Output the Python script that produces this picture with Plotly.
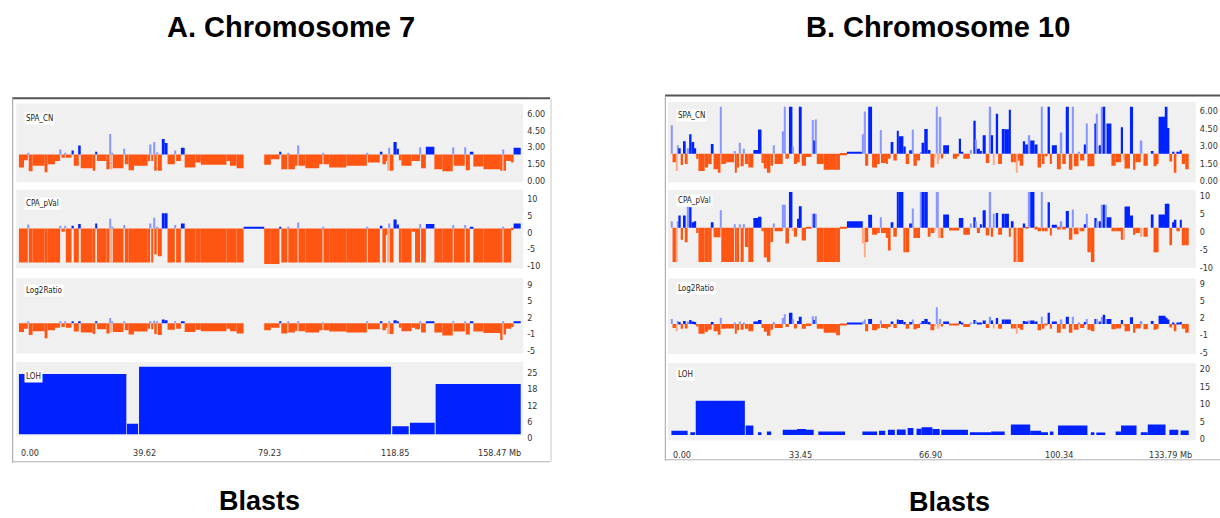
import plotly.graph_objects as go

W, H = 1220, 518

# ---------------- DATA (Mb positions, track values) ----------------
# Chromosome 7: contiguous segments; edges (Mb)
left_edges = [0.1, 1.7, 2.9, 3.2, 4.4, 8.2, 9.1, 11.5, 13.1, 13.5,
              14.6, 14.9, 16.7, 17.4, 19.0, 19.6, 23.4, 24.2, 24.7, 27.7,
              28.7, 29.0, 29.4, 29.7, 33.1, 33.5, 34.7, 36.4, 40.7, 41.5,
              41.9, 42.5, 42.8, 43.6, 43.9, 45.2, 46.1, 47.0, 49.3, 49.7,
              51.2, 52.4, 55.8, 57.5, 65.6, 66.7, 68.8, 71.0, 77.5, 79.6,
              82.3, 82.9, 84.8, 85.1, 87.2, 88.0, 88.3, 90.5, 94.8, 95.9,
              96.2, 98.0, 103.4, 109.9, 110.2, 114.0, 114.8, 115.9, 116.4, 116.7,
              117.1, 118.3, 119.3, 120.0, 120.8, 124.0, 125.1, 126.7, 127.0, 128.5,
              131.2, 133.7, 137.0, 137.3, 140.8, 141.1, 142.4, 143.5, 146.7, 152.1,
              152.7, 153.0, 153.8, 155.4, 156.2, 158.45]
left_cn = [0.82, 1.47, 2.15, 0.47, 0.97, 0.38, 1.12, 1.41, 2.44, 1.70,
           2.15, 1.70, 2.35, 0.97, 2.80, 0.76, 0.52, 2.24, 1.41, 0.67,
           3.83, 0.67, 2.15, 0.76, 2.50, 1.12, 0.58, 0.97, 1.41, 2.89,
           1.41, 3.12, 0.52, 2.20, 0.52, 3.39, 3.03, 1.12, 2.35, 1.41,
           2.59, 0.82, 1.26, 1.06, 1.41, 0.97, 0.76, None, 1.06, 1.56,
           2.24, 0.67, 2.15, 0.67, 0.97, 2.80, 0.97, 0.76, 1.12, 2.12,
           1.12, 0.82, 0.97, 2.15, 1.26, 2.24, 1.12, 1.41, 0.52, 2.59,
           0.52, 3.12, 2.50, 1.47, 0.97, 1.41, 1.41, 2.65, 0.76, 2.68,
           0.67, 0.47, 2.65, 0.97, 2.65, 0.58, 2.24, 0.91, 0.67, 0.52,
           2.44, 0.52, 1.41, 1.26, 2.59]
left_pval = [-10.2, -10.2, 1.2, -10.2, -10.2, -10.2, -10.2, -10.2, 0.8, -1.0,
             0.8, -10.2, 0.8, -10.2, 1.3, -10.2, -10.2, 1.5, -10.2, -10.2,
             2.9, -10.2, 0.5, -10.2, 1.0, -10.2, -10.2, -10.2, -10.2, 1.5,
             -10.2, 3.2, -7.8, 0.5, -8.3, 4.5, 4.5, -10.2, 1.0, -10.2,
             1.5, -10.2, -10.2, -10.2, -10.2, -10.2, -10.2, 0.5, -10.6, -10.6,
             0.5, -10.2, 0.5, -10.2, -10.2, 1.8, -10.2, -10.2, -10.2, 0.4,
             -10.2, -10.2, -10.2, 0.5, -10.2, 0.8, -10.2, -2.0, -10.2, 1.5,
             -10.2, 2.7, 1.2, -10.2, -10.2, -1.0, -10.2, 1.3, -10.2, 1.3,
             -10.2, -10.2, 1.0, -10.2, 1.0, -10.2, 0.5, -10.2, -10.2, -10.2,
             0.5, -10.2, -10.2, -0.5, 1.5]
left_log2 = [-1.9, -1.2, 0.2, -2.5, -1.7, -3.2, -1.5, -1.0, 0.2, -0.8,
             0.2, -1.0, 0.3, -1.8, 0.3, -2.0, -2.3, 0.2, -1.3, -2.2,
             1.1, -2.0, 0.2, -1.9, 0.2, -1.5, -2.4, -1.8, -1.2, 0.4,
             -1.3, 0.5, -2.3, 0.2, -2.5, 0.8, 0.6, -1.4, 0.2, -1.2,
             0.2, -1.9, -1.4, -1.7, -1.2, -1.7, -2.2, None, -1.5, -1.0,
             0.3, -2.2, 0.2, -2.0, -1.6, 0.3, -1.7, -2.0, -1.5, 0.1,
             -1.5, -1.8, -2.0, 0.2, -1.3, 0.2, -1.5, -1.0, -2.3, 0.3,
             -2.3, 0.6, 0.3, -1.0, -1.7, -1.0, -1.3, 0.2, -2.0, 0.4,
             -2.0, -2.6, 0.2, -1.8, 0.2, -2.4, 0.3, -1.8, -2.1, -3.6,
             0.2, -2.4, -1.2, -0.8, 0.4]
left_loh_start = [0.1, 34.2, 38.0, 117.9, 123.5, 131.6]
left_loh_end = [34.0, 37.7, 117.5, 123.1, 131.3, 158.45]
left_loh = [23.0, 4.0, 25.7, 3.0, 4.4, 19.1]

# Chromosome 10 segments
right_start = [0.0, 0.3, 1.2, 1.5, 1.8, 2.4, 3.0, 3.7, 4.2, 4.6,
               5.2, 5.9, 6.4, 7.0, 8.6, 9.5, 10.4, 10.9, 12.2, 12.7,
               12.9, 14.1, 16.2, 16.4, 16.9, 17.5, 17.9, 18.7, 19.0, 19.9,
               21.2, 22.4, 23.3, 23.9, 24.7, 25.6, 26.3, 26.7, 28.8, 29.2,
               29.5, 30.4, 31.3, 31.7, 32.5, 33.2, 33.7, 34.8, 36.4, 36.7,
               37.3, 37.6, 39.4, 42.6, 43.6, 45.4, 49.5, 49.8, 50.1, 50.9,
               51.9, 53.2, 53.9, 54.2, 55.5, 56.0, 56.7, 57.4, 58.3, 58.8,
               60.0, 60.6, 61.5, 62.3, 62.6, 63.5, 64.3, 64.7, 65.4, 66.3,
               67.0, 68.0, 68.4, 68.7, 69.1, 69.4, 69.8, 70.3, 71.8, 72.8,
               73.9, 74.4, 74.9, 75.5, 77.4, 78.1, 78.7, 79.0, 79.8, 80.5,
               81.3, 82.3, 82.7, 83.2, 83.9, 84.5, 85.7, 86.2, 87.3, 87.8,
               88.5, 89.2, 89.6, 90.1, 91.0, 91.5, 92.4, 92.8, 93.9, 94.7,
               95.6, 96.0, 96.5, 97.3, 97.9, 98.4, 99.7, 100.7, 101.1, 102.0,
               102.8, 103.7, 104.1, 105.3, 105.7, 106.8, 107.3, 107.6, 108.5, 109.4,
               110.0, 110.5, 111.3, 111.7, 112.2, 112.6, 113.8, 114.9, 116.3, 116.8,
               117.2, 118.6, 119.4, 120.0, 121.4, 122.1, 124.2, 124.7, 125.5, 126.0,
               127.8, 128.3, 128.8, 129.5, 130.1, 130.6, 131.5, 132.0, 132.9]
right_end = [0.3, 1.2, 1.5, 1.8, 2.4, 3.0, 3.7, 4.2, 4.6, 5.2,
             5.9, 6.4, 7.0, 8.6, 9.5, 10.4, 10.9, 12.2, 12.7, 12.9,
             14.1, 16.2, 16.4, 16.9, 17.5, 17.9, 18.7, 19.0, 19.9, 21.2,
             22.4, 23.3, 23.9, 24.7, 25.6, 26.3, 26.7, 28.8, 29.2, 29.5,
             30.4, 31.3, 31.7, 32.5, 33.2, 33.7, 34.8, 36.2, 36.7, 37.3,
             37.6, 39.4, 42.6, 43.6, 45.4, 49.5, 49.8, 50.1, 50.9, 51.9,
             53.2, 53.9, 54.2, 55.5, 56.0, 56.7, 57.4, 58.3, 58.8, 60.0,
             60.6, 61.5, 62.3, 62.6, 63.5, 64.3, 64.7, 65.4, 66.3, 67.0,
             68.0, 68.4, 68.7, 69.1, 69.4, 69.8, 70.3, 71.8, 72.8, 73.9,
             74.4, 74.9, 75.5, 77.2, 77.7, 78.7, 79.0, 79.8, 80.3, 81.3,
             82.2, 82.7, 83.2, 83.6, 84.5, 85.5, 86.2, 87.3, 87.8, 88.5,
             89.2, 89.6, 90.1, 91.0, 91.5, 92.4, 92.8, 93.9, 94.7, 95.6,
             96.0, 96.5, 97.3, 97.9, 98.4, 99.7, 100.7, 101.1, 102.0, 102.8,
             103.7, 104.1, 105.3, 105.7, 106.8, 107.3, 107.6, 108.5, 109.4, 110.0,
             110.3, 111.1, 111.7, 112.2, 112.6, 113.8, 114.9, 116.3, 116.8, 117.2,
             118.6, 119.4, 120.0, 121.4, 121.8, 123.2, 124.7, 125.5, 126.0, 127.8,
             128.3, 128.8, 129.5, 130.1, 130.6, 131.5, 132.0, 132.9, 133.8]
right_cn = [4.42, 1.28, 0.54, 2.72, 2.48, 1.04, 3.07, 1.13, 2.48, 3.67,
            3.01, 2.48, 1.58, 0.54, 0.84, 1.13, 2.84, 0.69, 0.39, 6.0,
            1.13, 1.28, 2.24, 0.39, 0.84, 2.93, 0.93, 2.42, 1.13, 0.84,
            2.33, 4.06, 1.22, 0.75, 0.39, 0.99, 2.72, 1.13, 3.91, 6.0,
            1.58, 6.0, 2.63, 1.13, 1.28, 6.0, 0.99, 1.73, 4.87, 3.13,
            4.93, 1.13, 0.63, 0.63, 1.88, 2.18, 3.67, 5.61, 0.99, 6.0,
            0.84, 1.13, 4.03, 1.22, 1.13, 1.58, 3.01, 1.43, 3.97, 3.49,
            2.63, 1.13, 2.30, 4.06, 0.99, 1.43, 2.10, 2.93, 4.12, 2.33,
            0.84, 1.60, 6.0, 1.13, 1.50, 5.16, 1.60, 2.72, 2.0, 1.58,
            1.80, 3.28, 2.18, 1.58, 2.33, 4.81, 3.22, 2.42, 2.24, 3.58,
            1.22, 6.0, 3.58, 1.04, 5.40, 1.13, 4.12, 4.09, 5.76, 1.28,
            1.28, 0.39, 1.40, 0.99, 3.07, 2.78, 3.58, 3.13, 2.78, 0.84,
            6.0, 1.13, 1.80, 6.0, 1.13, 2.72, 0.69, 3.82, 1.13, 6.0,
            0.63, 6.0, 0.93, 2.18, 1.43, 2.78, 4.57, 0.93, 0.93, 4.57,
            5.40, 2.72, 6.0, 6.0, 4.57, 4.57, 0.99, 1.28, 4.27, 1.50,
            0.75, 6.0, 0.63, 1.28, 3.13, 0.99, 2.24, 0.93, 1.13, 5.16,
            6.0, 4.20, 1.34, 2.18, 0.39, 2.18, 2.30, 1.13, 0.69]
right_pval = [1.8, -9.6, -9.6, 1.8, 3.4, -3.4, 3.4, -4.1, 5.9, 5.7,
              1.5, 1.8, -1.5, -9.6, -9.6, -9.6, 1.5, -2.7, -2.7, 4.9,
              -9.6, -9.6, 1.0, -9.6, -9.6, 1.0, -9.6, 1.0, -5.4, -9.6,
              2.7, 3.1, -1.0, -8.3, -9.6, -4.0, 1.2, -1.0, 6.4, 6.4,
              -4.4, 10.0, -1.0, -2.5, 2.5, 6.0, -3.6, -0.3, 3.9, 3.9,
              3.9, -9.6, -9.6, -9.6, -0.3, 1.8, -4.4, -8.3, -4.0, 3.6,
              -2.0, -1.5, 2.9, -1.5, -2.9, -6.4, 1.5, -2.5, 10.0, 10.0,
              -6.9, -6.9, 1.2, 5.4, -2.9, -2.9, 10.0, 10.0, 10.0, -2.5,
              -1.5, -1.0, 10.0, 10.0, -2.9, -2.9, -2.9, 3.7, -0.8, -0.8,
              -0.8, 2.7, 2.7, -2.0, 1.2, 2.9, 1.8, -1.5, 1.0, 4.9,
              -2.2, 10.0, -2.5, 3.9, 4.1, -2.0, 3.9, 3.9, -2.5, 1.8,
              -9.6, -9.6, -9.6, -9.6, 1.2, -0.3, 10.0, 10.0, -0.5, -1.0,
              10.0, -1.0, -1.0, 7.1, -2.2, 0.8, -0.5, 1.8, -0.5, 4.7,
              -3.4, 5.1, -1.8, -1.0, -1.0, 1.0, 3.9, -6.9, -9.6, 2.7,
              1.8, 1.8, 6.4, 6.4, 6.4, 2.9, -1.0, -1.0, -3.4, -3.4,
              5.9, 3.4, -2.0, -1.5, -2.5, -2.5, 3.7, -6.9, -6.9, 3.7,
              6.7, 6.7, -4.9, 1.5, 2.2, -1.0, 2.2, -4.9, -4.9]
right_log2 = [1.0, -0.8, -1.5, 0.6, 0.4, -1.0, 0.6, -0.9, 0.5, 0.8,
              0.5, 0.4, -0.5, -2.0, -1.6, -1.2, 0.4, -1.5, -2.2, 1.3,
              -1.0, -0.9, 0.3, -2.0, -1.3, 0.5, -1.2, 0.3, -1.0, -1.5,
              0.5, 0.8, -0.8, -1.6, -2.4, -1.2, 0.4, -0.8, 1.2, 2.0,
              -0.6, 2.3, 1.0, -0.9, 0.6, 1.5, -1.0, -0.4, 1.6, 0.8,
              1.6, -1.0, -1.8, -2.3, -0.1, 0.3, 0.5, 0.9, -1.5, 1.0,
              -1.3, -0.9, 0.7, -0.8, -1.0, -0.6, 0.5, -0.8, 0.9, 0.8,
              0.4, -1.0, 0.4, 0.9, -1.1, -0.8, 0.3, 0.6, 1.0, 0.4,
              -1.3, -0.5, 3.4, -1.0, -0.5, 1.0, -0.5, 0.5, -0.2, -0.3,
              -0.1, 0.6, 0.2, -0.6, 0.3, 0.8, 0.6, 0.3, 0.2, 0.7,
              -0.8, 1.5, 0.7, -0.9, 1.2, -1.0, 0.9, 0.9, 0.9, -0.9,
              -0.9, -2.0, -0.8, -1.2, 0.6, 0.5, 0.7, 0.7, 0.5, -1.3,
              1.5, -1.0, -0.2, 2.3, -1.0, 0.5, -1.8, 0.9, -1.0, 1.5,
              -1.8, 1.5, -1.2, 0.2, -0.8, 0.4, 1.0, -1.2, -1.5, 1.0,
              1.0, 0.5, 1.5, 1.9, 1.0, 1.0, -1.1, -0.9, 0.8, -0.4,
              -1.5, 1.4, -1.8, -0.9, 0.6, -1.1, 0.6, -1.2, -1.0, 1.7,
              1.3, 0.9, -0.7, 0.3, -1.5, 0.3, 0.4, -1.0, -1.8]
right_loh_start = [0.0, 4.9, 6.3, 19.2, 22.4, 24.7, 28.8, 32.5, 34.8, 38.0,
                   49.4, 53.7, 56.0, 58.3, 61.1, 63.4, 64.7, 67.5, 69.8, 77.2,
                   82.7, 87.8, 92.8, 95.6, 97.9, 100.0, 108.5, 109.9, 114.9, 116.3,
                   121.4, 123.2, 128.8, 131.7]
right_loh_end = [4.2, 6.1, 19.0, 21.2, 23.3, 25.8, 32.5, 34.8, 36.8, 44.9,
                 53.2, 55.3, 57.8, 60.6, 62.6, 64.7, 67.5, 69.4, 76.7, 82.7,
                 86.2, 92.8, 95.6, 97.4, 98.8, 107.6, 109.4, 112.2, 116.3, 120.3,
                 123.2, 127.8, 131.1, 133.8]
right_loh = [1.2, 0.8, 9.8, 2.7, 0.8, 1.0, 1.5, 1.7, 1.5, 1.0,
             1.0, 1.2, 1.5, 1.6, 2.0, 1.8, 2.2, 1.7, 1.5, 0.8,
             1.0, 3.0, 1.2, 0.8, 1.0, 2.7, 0.8, 0.7, 1.0, 2.7,
             0.8, 3.0, 1.5, 1.3]

left_ticks_x = [0.00, 39.62, 79.23, 118.85, 158.47]
right_ticks_x = [0.00, 33.45, 66.90, 100.34, 133.79]
track_names = ["SPA_CN", "CPA_pVal", "Log2Ratio", "LOH"]

# ---------------- STYLE / LAYOUT ----------------
BLUE, ORANGE = "#0022ff", "#ff5512"
LBLUE, LORANGE = "#8a96ff", "#ffab88"
NARROW = "Liberation Sans Narrow, Arial Narrow, DejaVu Sans Condensed, sans-serif"
BOLD = "Liberation Sans, Arial, Helvetica, sans-serif"

def px(x):
    return x / W

def py(y):
    return 1 - y / H

panel_xdom = [[px(16.2), px(523.2)], [px(667.8), px(1195.8)]]
panel_xrange = [[-0.76, 159.23], [-0.93, 135.63]]
# (top px, bottom px, y range) per panel per track
boxes = [
    [(105.3, 185.0, [-0.50, 6.57]), (192.6, 272.5, [-11.91, 11.59]),
     (282.6, 359.1, [-6.46, 9.54]), (367.6, 442.4, [-0.53, 27.56])],
    [(103.5, 185.4, [-0.45, 6.42]), (192.8, 272.2, [-11.27, 10.6]),
     (282.8, 359.7, [-6.17, 9.32]), (368.9, 447.2, [-1.49, 20.5])],
]
yticks = [
    ([0, 1.5, 3, 4.5, 6], ["0.00", "1.50", "3.00", "4.50", "6.00"]),
    ([-10, -5, 0, 5, 10], ["-10", "-5", "0", "5", "10"]),
    ([-5, -1.5, 2, 5.5, 9], ["-5", "-1", "2", "5", "9"]),
]
loh_ticks = [([0, 6.25, 12.5, 18.75, 25], ["0", "6", "12", "18", "25"]),
             ([0, 5, 10, 15, 20], ["0", "5", "10", "15", "20"])]
baselines = [2.0, 0.0, 0.0, 0.0]

fig = go.Figure()
layout = dict(width=W, height=H, margin=dict(l=0, r=0, t=0, b=0),
              paper_bgcolor="white", plot_bgcolor="#f0f0f0",
              showlegend=False, barmode="overlay")


def add_bars(n, starts, ends, vals, base):
    xs, ws, hs, bs, cs = [], [], [], [], []
    for s, e, v in zip(starts, ends, vals):
        if v is None or v == base:
            continue
        w = e - s
        thin = w < 0.45
        if v > base:
            c = LBLUE if thin else BLUE
        else:
            c = LORANGE if thin else ORANGE
        xs.append((s + e) / 2)
        ws.append(w)
        hs.append(v - base)
        bs.append(base)
        cs.append(c)
    fig.add_trace(go.Bar(x=xs, y=hs, base=bs, width=ws,
                         marker=dict(color=cs, line=dict(width=0)),
                         xaxis="x%d" % n, yaxis="y%d" % n, hoverinfo="skip"))


panels = [
    (left_edges[:-1], left_edges[1:], [left_cn, left_pval, left_log2],
     left_loh_start, left_loh_end, left_loh),
    (right_start, right_end, [right_cn, right_pval, right_log2],
     right_loh_start, right_loh_end, right_loh),
]

for p, (st, en, tracks, ls, le, lv) in enumerate(panels):
    for t in range(4):
        n = p * 4 + t + 1
        top, bot, yr = boxes[p][t]
        if t < 3:
            add_bars(n, st, en, tracks[t], baselines[t])
            tv, tt = yticks[t]
        else:
            add_bars(n, ls, le, lv, 0.0)
            tv, tt = loh_ticks[p]
        sfx = "" if n == 1 else str(n)
        layout["xaxis" + sfx] = dict(domain=panel_xdom[p], range=panel_xrange[p],
                                     anchor="y" + str(n), showgrid=False, zeroline=False,
                                     showticklabels=False, showline=False, fixedrange=True)
        layout["yaxis" + sfx] = dict(domain=[py(bot), py(top)], range=yr,
                                     anchor="x" + str(n), side="right",
                                     tickvals=tv, ticktext=tt, ticks="",
                                     ticklabelshift=4, ticklabelstandoff=3,
                                     tickfont=dict(family=NARROW, size=9, color="#333333"),
                                     showgrid=False, zeroline=False, showline=False,
                                     fixedrange=True)

annotations = []
# titles
for txt, x, y, s in [("<b>A. Chromosome 7</b>", 291, 27, 29),
                     ("<b>B. Chromosome 10</b>", 937.5, 27, 29),
                     ("<b>Blasts</b>", 259, 509, 27),
                     ("<b>Blasts</b>", 949.5, 510, 27)]:
    annotations.append(dict(text=txt, x=px(x), y=py(y), xref="paper", yref="paper",
                            xanchor="center", yanchor="middle", showarrow=False,
                            font=dict(family=BOLD, size=s, color="black")))
# track labels
label_pos = [[(23.7, 120), (23.7, 206.5), (23.7, 294.7), (23.7, 382)],
             [(676, 117.6), (676, 204), (676, 292.7), (676, 380)]]
for p in range(2):
    for t in range(4):
        x, y = label_pos[p][t]
        annotations.append(dict(text=track_names[t], x=px(x), y=py(y), xref="paper",
                                yref="paper", xanchor="left", yanchor="middle",
                                showarrow=False, bgcolor="white", borderpad=1,
                                font=dict(family=NARROW, size=8, color="#222222")))
# x tick labels
for p, (ticks, ylab, shift) in enumerate([(left_ticks_x, 459.6, 2), (right_ticks_x, 462.5, 5)]):
    n = p * 4 + 4
    for i, v in enumerate(ticks):
        txt = "%.2f" % v
        anchor = "center"
        xs = 0
        if i == 0:
            anchor = "left"
        elif i == len(ticks) - 1:
            txt += " Mb"
            anchor = "right"
            xs = shift
        annotations.append(dict(text=txt, x=v, y=py(ylab), xref="x%d" % n, yref="paper",
                                xanchor=anchor, yanchor="middle", showarrow=False, xshift=xs,
                                font=dict(family=NARROW, size=9, color="#333333")))
layout["annotations"] = annotations

shapes = []
def line(x0, y0, x1, y1, color, w):
    shapes.append(dict(type="line", xref="paper", yref="paper", x0=px(x0), y0=py(y0),
                       x1=px(x1), y1=py(y1), line=dict(color=color, width=w)))

# left frame
line(12, 99.8, 550, 99.8, "#555555", 2)
line(12.7, 99, 12.7, 470, "#a0a0a0", 1)
line(12, 469, 550, 469, "#b0b0b0", 1)
line(551, 100, 551, 469, "#c8c8c8", 1)
# right frame
line(665, 97.1, 1220, 97.1, "#555555", 2)
line(665.3, 97, 665.3, 468, "#a0a0a0", 1)
line(665, 467, 1220, 467, "#b0b0b0", 1)
layout["shapes"] = shapes

fig.update_layout(**layout)
fig.write_html("out.html", config={"displayModeBar": False},
               post_script="document.body.style.margin='0px';document.body.style.padding='0px';document.body.style.overflow='hidden';")
